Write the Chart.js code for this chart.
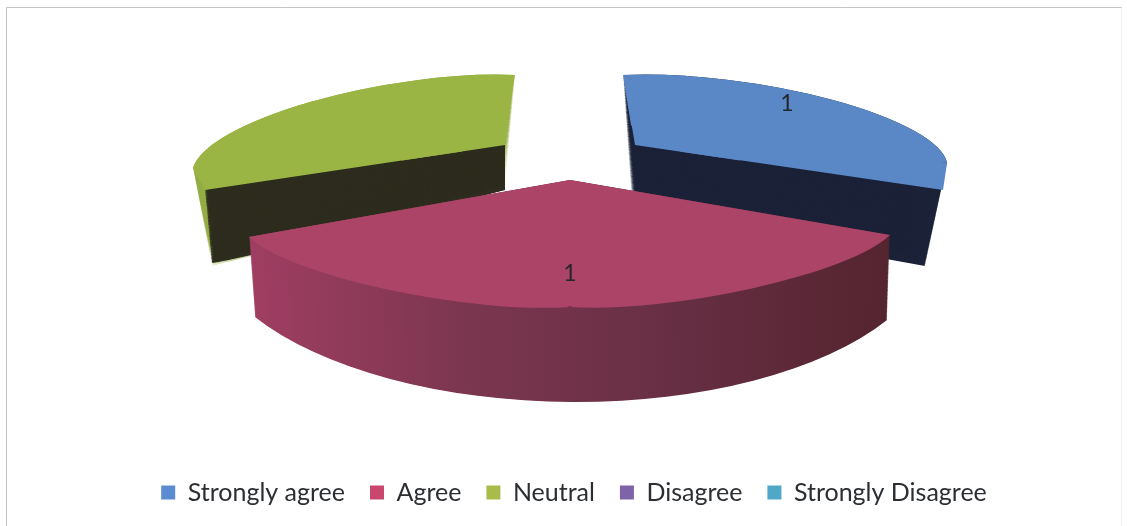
<!DOCTYPE html>
<html>
<head>
<meta charset="utf-8">
<style>html,body{margin:0;padding:0;background:#fff}canvas{display:block}</style>
<script src="https://cdn.jsdelivr.net/npm/chart.js@4"></script>
</head>
<body>
<canvas id="c" width="1127" height="526"></canvas>
<script>
const categories = ['Strongly agree', 'Agree', 'Neutral', 'Disagree', 'Strongly Disagree'];
const values = [1, 1, 1, 0, 0];
const legendColors = ['#5b8bd0', '#c9476c', '#a9bc4a', '#7f63a8', '#4fa9c6'];

// Camera for the pseudo-3D look: each library arc is re-projected onto these
// target triangles [apex, start-angle point, end-angle point].
const views = [
  { // blue
    top: '#5a87c6',
    sweeps: [{ from: [[737,138],[623,75],[947,163]], to: [[737,232],[631,190],[925,266]], color: '#1b2238' }],
    faces: [[[737,138],[623,75],[947,163]], [[635,145],[625,85],[720,157.5]], [[623,75],[631,125],[663,95]], [[943,190],[947,163],[720,157.3]], [[740,160.5],[680,151.5],[780,110]]],
    label: [787,104]
  },
  { // red
    top: '#ac4467',
    sweeps: [{ from: [[570,180],[890,235],[249,237]], to: [[570,235],[887,320],[255,317]], color: 'wall' }],
    faces: [[[570,180],[890,235],[249,237]], [[706,254],[890,235],[570,307]], [[434,255],[570,307],[249,237]], [[570,264],[700,285],[440,285]]],
    label: [570,274]
  },
  { // green
    top: '#9ab544',
    sweeps: [
      { from: [[398,141],[193,168],[515,75]], to: [[398,218],[212,266],[505,190]], color: '#93ac44' },
      { from: [[505,145],[245,184],[505,141]], to: [[505,190],[251,255],[505,186]], color: '#2e2d1f' }
    ],
    faces: [[[398,141],[193,168],[515,75]], [[505,145],[420,157.7],[512,85]], [[515,75],[475,95],[507,125]], [[205,190],[193,168],[420,157.7]], [[402,160.5],[462,151.5],[362,110]]]
  }
];
const drawOrder = [0, 2, 1];
const LAYERS = 160;

function place(ctx, arc, tri) {
  const r = arc.outerRadius;
  const a0 = arc.startAngle, a1 = arc.endAngle;
  const sx1 = r * Math.cos(a0), sy1 = r * Math.sin(a0);
  const sx2 = r * Math.cos(a1), sy2 = r * Math.sin(a1);
  const det = sx1 * sy2 - sx2 * sy1;
  const dx1 = tri[1][0] - tri[0][0], dy1 = tri[1][1] - tri[0][1];
  const dx2 = tri[2][0] - tri[0][0], dy2 = tri[2][1] - tri[0][1];
  const a = (dx1 * sy2 - dx2 * sy1) / det;
  const c = (dx2 * sx1 - dx1 * sx2) / det;
  const b = (dy1 * sy2 - dy2 * sy1) / det;
  const d = (dy2 * sx1 - dy1 * sx2) / det;
  ctx.setTransform(a, b, c, d, tri[0][0] - a * arc.x - c * arc.y, tri[0][1] - b * arc.x - d * arc.y);
}
function paint(ctx, arc, tri, color) {
  const orig = arc.options;
  let fill = color;
  if (color === 'wall') {
    fill = ctx.createLinearGradient(arc.x - arc.outerRadius, 0, arc.x + arc.outerRadius, 0);
    fill.addColorStop(0.06, '#a03e62');
    fill.addColorStop(0.35, '#7c3650');
    fill.addColorStop(0.6, '#6a3046');
    fill.addColorStop(0.94, '#54242f');
  }
  arc.options = Object.create(orig, {
    backgroundColor: { value: fill },
    borderWidth: { value: 0 }
  });
  ctx.save();
  place(ctx, arc, tri);
  arc.draw(ctx);
  ctx.restore();
  arc.options = orig;
}
const pie3d = {
  id: 'pie3d',
  beforeDraw(chart) {
    const ctx = chart.ctx;
    ctx.save();
    ctx.lineWidth = 1;
    ctx.strokeStyle = '#efefef';
    ctx.strokeRect(6.5, 7.5, 1115, 560);
    ctx.strokeStyle = '#c4c4c4';
    ctx.beginPath();
    ctx.moveTo(6.5, 526); ctx.lineTo(6.5, 7.5); ctx.lineTo(1121.5, 7.5);
    ctx.stroke();
    ctx.restore();
  },
  beforeDatasetsDraw(chart) {
    const ctx = chart.ctx;
    const arcs = chart.getDatasetMeta(0).data;
    drawOrder.forEach(i => {
      const arc = arcs[i], v = views[i];
      v.sweeps.forEach(s => {
        for (let k = 0; k <= LAYERS; k++) {
          const t = k / LAYERS;
          const tri = s.from.map((p, j) => [p[0] + (s.to[j][0] - p[0]) * t, p[1] + (s.to[j][1] - p[1]) * t]);
          paint(ctx, arc, tri, s.color);
        }
      });
      v.faces.forEach(tri => paint(ctx, arc, tri, v.top));
    });
    ctx.save();
    ctx.font = '23px Lato';
    ctx.fillStyle = '#23262b';
    ctx.textAlign = 'center';
    ctx.textBaseline = 'middle';
    drawOrder.forEach(i => {
      if (views[i].label) ctx.fillText(String(values[i]), views[i].label[0], views[i].label[1]);
    });
    ctx.restore();
    return false;
  }
};

new Chart(document.getElementById('c'), {
  type: 'pie',
  data: {
    labels: categories,
    datasets: [{ data: values, backgroundColor: legendColors, borderWidth: 0 }]
  },
  plugins: [pie3d],
  options: {
    responsive: false,
    animation: false,
    layout: { padding: { left: 21, right: 0, top: 0, bottom: 11 } },
    plugins: {
      tooltip: { enabled: false },
      legend: {
        position: 'bottom',
        labels: {
          boxWidth: 14,
          boxHeight: 14,
          padding: 25,
          color: '#2b2e33',
          font: { family: 'Lato', size: 25 }
        }
      }
    }
  }
});
</script>
</body>
</html>
